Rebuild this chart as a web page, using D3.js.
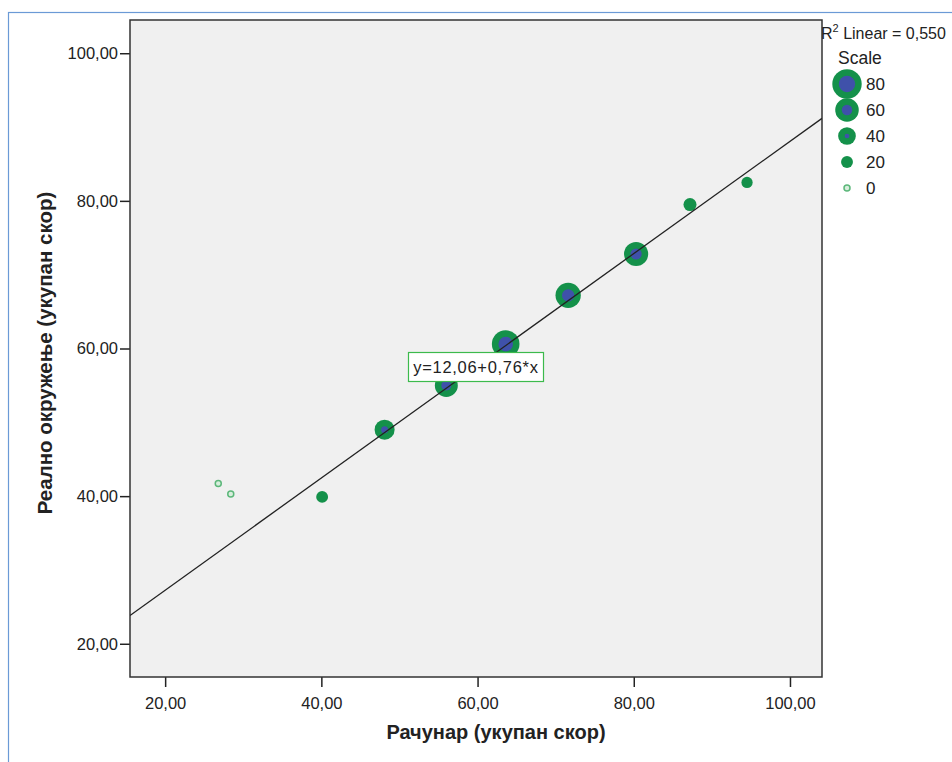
<!DOCTYPE html>
<html>
<head>
<meta charset="utf-8">
<script src="https://cdn.jsdelivr.net/npm/d3@7/dist/d3.min.js"></script>
<style>
  body { margin: 0; background: #fff; }
  svg { display: block; font-family: Arial, "Liberation Sans", sans-serif; }
</style>
</head>
<body>
<svg id="chart"></svg>
<script>
// data
var xVals = [26.8, 28.4, 40.1, 48.1, 56.0, 63.6, 71.6, 80.3, 87.2, 94.5];
var yVals = [41.7, 40.3, 39.9, 49.0, 55.0, 60.6, 67.2, 72.8, 79.5, 82.5];
var sizeVals = [0, 0, 20, 48, 58, 74, 66, 62, 24, 18];
var xTicks = [20, 40, 60, 80, 100];
var yTicks = [20, 40, 60, 80, 100];
var legendVals = [80, 60, 40, 20, 0];
var fitCoef = [12.06, 0.76];
var rSquared = "0,550";

var screen = {width: 952, height: 762};
var plot = {left: 130, top: 20, right: 822, bottom: 677};

var green = "#14914a", blue = "#3f51aa", hollow = "#5cb77a";

var svg = d3.select("#chart")
    .attr("width", screen.width)
    .attr("height", screen.height);

// outer blue frame
svg.append("rect")
    .attr("x", 8.5).attr("y", 12.5)
    .attr("width", 1000).attr("height", 800)
    .attr("fill", "none").attr("stroke", "#6b9ad6").attr("stroke-width", 1.2);

var xScale = d3.scaleLinear().domain([15.5, 104.1]).range([plot.left, plot.right]);
var yScale = d3.scaleLinear().domain([15.5, 104.5]).range([plot.bottom, plot.top]);
//radius of a marker from its Scale value
var rScale = d3.scaleLinear().domain([0, 80]).range([3, 14.7]);

var fmt = function(v){ return d3.format(".2f")(v).replace(".", ","); };

svg.append("rect")
    .attr("x", plot.left).attr("y", plot.top)
    .attr("width", plot.right - plot.left).attr("height", plot.bottom - plot.top)
    .attr("fill", "#f0f0f0");

svg.append("clipPath").attr("id", "clip")
    .append("rect")
    .attr("x", plot.left).attr("y", plot.top)
    .attr("width", plot.right - plot.left).attr("height", plot.bottom - plot.top);

// axes
var xAxis = d3.axisBottom(xScale).tickValues(xTicks).tickFormat(fmt).tickSize(10).tickSizeOuter(0);
var yAxis = d3.axisLeft(yScale).tickValues(yTicks).tickFormat(fmt).tickSize(10).tickSizeOuter(0);

var gx = svg.append("g")
    .attr("transform", "translate(0," + plot.bottom + ")")
    .call(xAxis);
var gy = svg.append("g")
    .attr("transform", "translate(" + plot.left + ",0)")
    .call(yAxis);

[gx, gy].forEach(function(g){
    g.select(".domain").remove();
    g.selectAll("line").attr("stroke", "#222").attr("stroke-width", 1.5);
    g.selectAll("text").attr("fill", "#222").style("font-size", "16.5px")
        .style("font-family", "Arial, 'Liberation Sans', sans-serif");
});
gx.selectAll("text").attr("dy", "1.15em");
gy.selectAll("text").attr("x", -12);

// plot frame
svg.append("rect")
    .attr("x", plot.left).attr("y", plot.top)
    .attr("width", plot.right - plot.left).attr("height", plot.bottom - plot.top)
    .attr("fill", "none").attr("stroke", "#333").attr("stroke-width", 1.5);

// points
var pts = xVals.map(function(x, i){ return {x: x, y: yVals[i], s: sizeVals[i]}; });

var drawMarker = function(g, s){
    var r = rScale(s);
    if (s === 0) {
        g.append("circle").attr("r", r).attr("fill", "#d8eedd")
            .attr("stroke", hollow).attr("stroke-width", 1.5);
        return;
    }
    g.append("circle").attr("r", r).attr("fill", green);
    var inner = r - 6.5;
    if (inner > 0) g.append("circle").attr("r", inner).attr("fill", blue);
};

var gp = svg.append("g").attr("clip-path", "url(#clip)");
gp.selectAll("g.pt")
    .data(pts)
    .enter()
    .append("g")
    .attr("class", "pt")
    .attr("transform", function(d){ return "translate(" + xScale(d.x) + "," + yScale(d.y) + ")"; })
    .each(function(d){ drawMarker(d3.select(this), d.s); });

// fit line
var x0 = xScale.domain()[0], x1 = xScale.domain()[1];
var fit = function(x){ return fitCoef[0] + fitCoef[1] * x; };
svg.append("line")
    .attr("clip-path", "url(#clip)")
    .attr("x1", xScale(x0)).attr("y1", yScale(fit(x0)))
    .attr("x2", xScale(x1)).attr("y2", yScale(fit(x1)))
    .attr("stroke", "#222").attr("stroke-width", 1.3);

// equation label
var eqText = "y=" + String(fitCoef[0]).replace(".", ",") + "+" + String(fitCoef[1]).replace(".", ",") + "*x";
svg.append("rect")
    .attr("x", 408.5).attr("y", 352.5).attr("width", 135).attr("height", 29)
    .attr("fill", "#fff").attr("stroke", "#3cba4c").attr("stroke-width", 1.2);
svg.append("text")
    .attr("x", 476).attr("y", 373)
    .attr("text-anchor", "middle")
    .style("font-size", "16.5px").style("letter-spacing", "0.7px")
    .attr("fill", "#222")
    .text(eqText);

// axis titles
svg.append("text")
    .attr("x", 496).attr("y", 739)
    .attr("text-anchor", "middle")
    .style("font-size", "20px").style("font-weight", "bold")
    .attr("fill", "#222")
    .text("Рачунар (укупан скор)");

svg.append("text")
    .attr("transform", "translate(52,353) rotate(-90)")
    .attr("text-anchor", "middle")
    .style("font-size", "20.5px").style("font-weight", "bold")
    .attr("fill", "#222")
    .text("Реално окружење (укупан скор)");

// legend
var r2 = svg.append("text")
    .attr("x", 821).attr("y", 39)
    .style("font-size", "16px").attr("fill", "#222");
r2.append("tspan").text("R");
r2.append("tspan").attr("dy", -7).style("font-size", "11px").text("2");
r2.append("tspan").attr("dy", 7).text(" Linear = " + rSquared);

svg.append("text")
    .attr("x", 838).attr("y", 64)
    .style("font-size", "17.5px").attr("fill", "#222")
    .text("Scale");

var lg = svg.selectAll("g.lg")
    .data(legendVals)
    .enter()
    .append("g")
    .attr("class", "lg")
    .attr("transform", function(d, i){ return "translate(847," + (84 + i * 26) + ")"; });
lg.each(function(d){ drawMarker(d3.select(this), d); });
lg.append("text")
    .attr("x", 19).attr("y", 6)
    .style("font-size", "17px").attr("fill", "#222")
    .text(function(d){ return d; });
</script>
</body>
</html>
